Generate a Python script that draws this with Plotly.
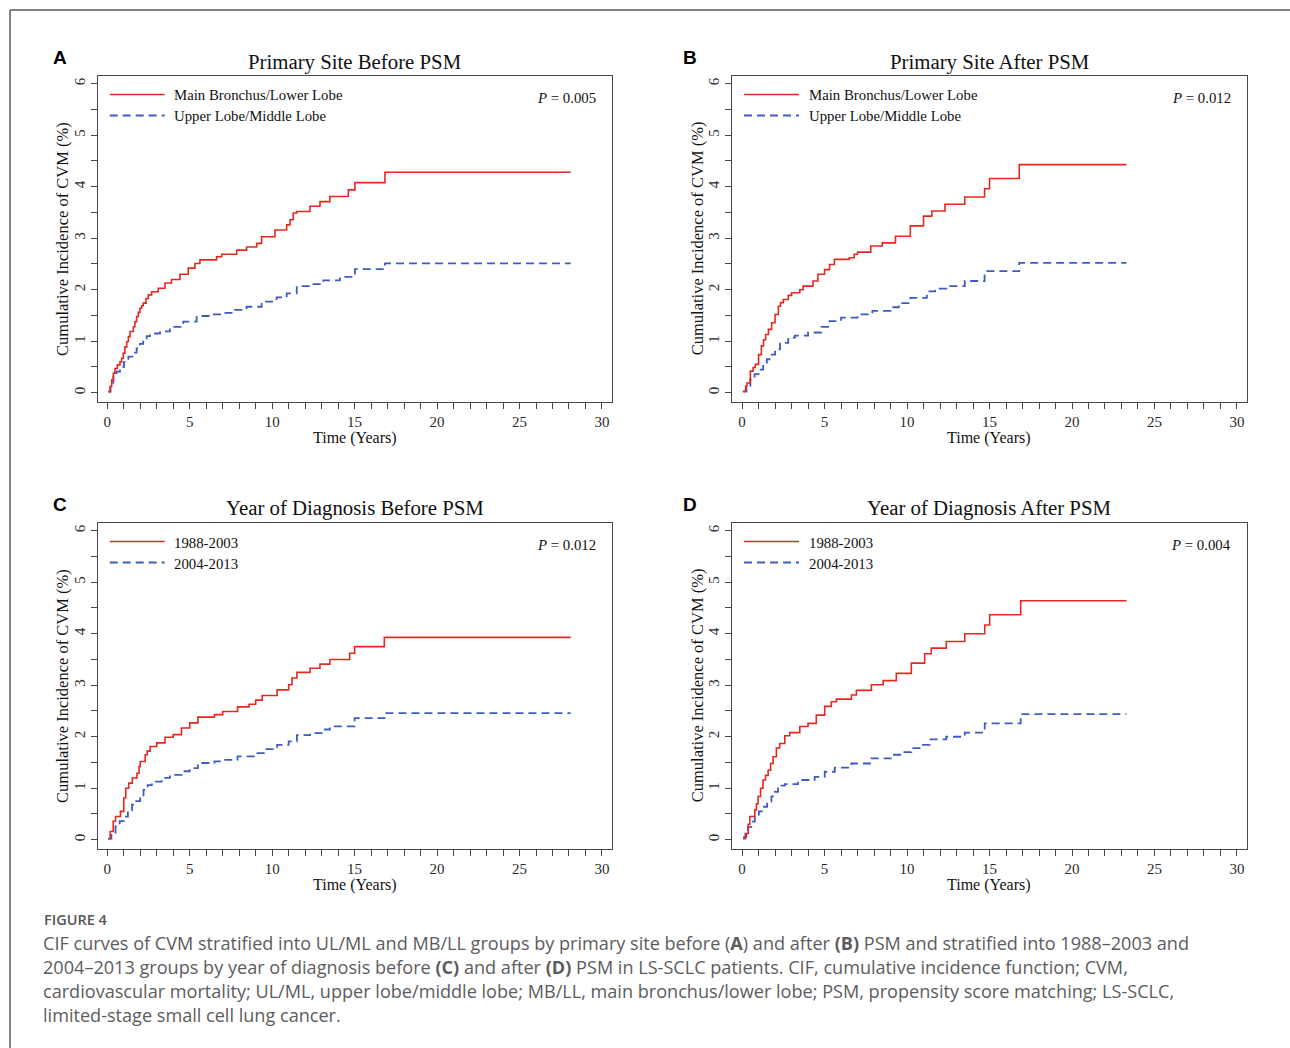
import plotly.graph_objects as go

W, H = 1290, 1048

# ---------------- data ----------------
panel_letters = ["A", "B", "C", "D"]
panel_titles = ["Primary Site Before PSM", "Primary Site After PSM",
                "Year of Diagnosis Before PSM", "Year of Diagnosis After PSM"]
p_values = ["0.005", "0.012", "0.012", "0.004"]
site_groups = ["Main Bronchus/Lower Lobe", "Upper Lobe/Middle Lobe"]
year_groups = ["1988-2003", "2004-2013"]
x_tick_vals = [0, 5, 10, 15, 20, 25, 30]
y_tick_vals = [0, 1, 2, 3, 4, 5, 6]
x_title = "Time (Years)"
y_title = "Cumulative Incidence of CVM (%)"

# Panel A: primary site, before PSM
a_mbll_t = [0.06, 0.17, 0.27, 0.37, 0.47, 0.61, 0.77, 0.87, 0.97, 1.07, 1.18, 1.28, 1.38, 1.58,
            1.68, 1.78, 1.88, 1.98, 2.08, 2.18, 2.35, 2.49, 2.69, 3.09, 3.5, 3.9, 4.41, 4.91,
            5.32, 5.62, 6.63, 6.94, 7.85, 8.45, 9.06, 9.36, 10.17, 10.88, 11.08, 11.28, 11.49,
            12.29, 12.9, 13.5, 14.62, 15.02, 16.84, 28.1]
a_mbll_y = [0.02, 0.12, 0.25, 0.38, 0.47, 0.54, 0.6, 0.67, 0.77, 0.89, 0.99, 1.09, 1.19, 1.28,
            1.38, 1.48, 1.56, 1.64, 1.69, 1.74, 1.83, 1.9, 1.96, 2.03, 2.13, 2.2, 2.3, 2.42,
            2.51, 2.58, 2.64, 2.69, 2.77, 2.83, 2.9, 3.03, 3.16, 3.26, 3.36, 3.49, 3.52,
            3.62, 3.71, 3.81, 3.94, 4.08, 4.28, 4.28]
a_ulml_t = [0.06, 0.2, 0.37, 0.57, 0.77, 1.01, 1.28, 1.52, 1.78, 1.98, 2.18, 2.39, 2.59, 3.2,
            3.8, 4.61, 5.42, 6.23, 7.03, 7.74, 8.45, 9.36, 10.27, 10.88, 11.49, 12.29, 13.1,
            14.11, 15.02, 16.84, 28.1]
a_ulml_y = [0.02, 0.12, 0.31, 0.41, 0.5, 0.6, 0.7, 0.78, 0.86, 0.95, 1.02, 1.1, 1.15, 1.19,
            1.28, 1.38, 1.49, 1.52, 1.55, 1.61, 1.67, 1.77, 1.85, 1.93, 2.07, 2.11, 2.18,
            2.25, 2.4, 2.51, 2.51]

# Panel B: primary site, after PSM
b_mbll_t = [0.05, 0.22, 0.3, 0.5, 0.67, 0.8, 1.0, 1.17, 1.3, 1.43, 1.6, 1.79, 2.0, 2.2, 2.33,
            2.5, 2.8, 3.0, 3.5, 3.7, 4.3, 4.6, 5.0, 5.3, 5.6, 6.5, 6.8, 7.0, 7.8, 8.5, 9.3,
            10.2, 11.0, 11.5, 12.3, 13.5, 14.7, 15.0, 16.8, 23.3]
b_mbll_y = [0.03, 0.13, 0.19, 0.42, 0.49, 0.55, 0.74, 0.91, 1.03, 1.13, 1.23, 1.36, 1.52, 1.68,
            1.75, 1.81, 1.89, 1.94, 2.0, 2.07, 2.17, 2.3, 2.39, 2.49, 2.59, 2.62, 2.69, 2.73,
            2.85, 2.91, 3.04, 3.24, 3.43, 3.53, 3.66, 3.8, 3.96, 4.16, 4.43, 4.43]
b_ulml_t = [0.05, 0.27, 0.5, 0.76, 1.0, 1.28, 1.5, 1.73, 2.0, 2.3, 2.8, 3.2, 4.0, 4.8, 5.3,
            6.0, 7.0, 7.9, 9.0, 9.5, 10.2, 11.2, 11.7, 12.4, 13.5, 14.7, 16.8, 23.3]
b_ulml_y = [0.02, 0.13, 0.26, 0.36, 0.45, 0.55, 0.65, 0.74, 0.84, 0.97, 1.07, 1.11, 1.17, 1.28,
            1.39, 1.46, 1.52, 1.59, 1.66, 1.74, 1.84, 1.97, 2.02, 2.07, 2.17, 2.36, 2.52, 2.52]

# Panel C: year of diagnosis, before PSM
c_early_t = [0.05, 0.18, 0.36, 0.5, 0.8, 1.0, 1.12, 1.3, 1.52, 1.8, 1.93, 2.0, 2.3, 2.42, 2.6,
             3.0, 3.5, 4.0, 4.5, 5.0, 5.5, 6.5, 7.0, 7.9, 8.6, 9.0, 9.4, 10.3, 11.0, 11.2,
             11.5, 12.3, 12.9, 13.5, 14.7, 15.0, 16.8, 28.1]
c_early_y = [0.02, 0.16, 0.36, 0.45, 0.55, 0.81, 1.0, 1.1, 1.2, 1.29, 1.42, 1.52, 1.65, 1.72,
             1.81, 1.88, 1.99, 2.04, 2.17, 2.27, 2.38, 2.43, 2.49, 2.58, 2.63, 2.71, 2.8,
             2.91, 3.01, 3.14, 3.25, 3.33, 3.41, 3.5, 3.62, 3.75, 3.93, 3.93]
c_late_t = [0.05, 0.25, 0.5, 0.75, 1.0, 1.25, 1.5, 1.75, 2.0, 2.2, 2.45, 2.7, 3.3, 3.8, 4.5,
            5.0, 5.5, 6.5, 7.0, 7.9, 9.0, 9.5, 10.3, 11.0, 11.5, 12.3, 13.0, 13.5, 15.0,
            16.8, 28.1]
c_late_y = [0.02, 0.13, 0.26, 0.36, 0.45, 0.57, 0.68, 0.75, 0.81, 0.97, 1.06, 1.13, 1.2, 1.26,
            1.33, 1.39, 1.49, 1.52, 1.55, 1.62, 1.68, 1.76, 1.84, 1.91, 2.03, 2.07, 2.14,
            2.2, 2.36, 2.46, 2.46]

# Panel D: year of diagnosis, after PSM
d_early_t = [0.06, 0.26, 0.37, 0.47, 0.77, 0.87, 0.97, 1.12, 1.27, 1.42, 1.58, 1.73, 1.88,
             2.08, 2.28, 2.59, 2.89, 3.5, 4.0, 4.5, 5.01, 5.41, 5.72, 6.63, 6.93, 7.84, 8.55,
             9.35, 10.26, 11.07, 11.47, 12.38, 13.5, 14.71, 15.01, 16.89, 23.3]
d_early_y = [0.05, 0.12, 0.3, 0.45, 0.58, 0.7, 0.84, 1.0, 1.16, 1.25, 1.35, 1.48, 1.61,
             1.78, 1.87, 2.02, 2.08, 2.2, 2.26, 2.42, 2.59, 2.68, 2.73, 2.81, 2.9, 3.01, 3.09,
             3.23, 3.43, 3.61, 3.72, 3.85, 4.0, 4.17, 4.37, 4.64, 4.64]
d_late_t = [0.06, 0.2, 0.36, 0.56, 0.77, 1.02, 1.27, 1.52, 1.78, 1.98, 2.18, 2.38, 2.59, 3.39,
            4.4, 5.01, 5.62, 6.63, 7.84, 9.15, 9.66, 10.26, 10.97, 11.37, 12.38, 13.5, 14.71,
            16.89, 23.3]
d_late_y = [0.02, 0.12, 0.25, 0.35, 0.45, 0.55, 0.64, 0.74, 0.84, 0.93, 1.0, 1.05, 1.08, 1.16,
            1.22, 1.32, 1.4, 1.48, 1.58, 1.65, 1.7, 1.78, 1.84, 1.95, 2.0, 2.08, 2.26,
            2.44, 2.44]

caption_label = "FIGURE 4"
caption_lines = [
    "CIF curves of CVM stratified into UL/ML and MB/LL groups by primary site before (<b>A</b>) and after <b>(B)</b> PSM and stratified into 1988–2003 and",
    "2004–2013 groups by year of diagnosis before <b>(C)</b> and after <b>(D)</b> PSM in LS-SCLC patients. CIF, cumulative incidence function; CVM,",
    "cardiovascular mortality; UL/ML, upper lobe/middle lobe; MB/LL, main bronchus/lower lobe; PSM, propensity score matching; LS-SCLC,",
    "limited-stage small cell lung cancer.",
]

# ---------------- styling ----------------
RED = "#e5281f"
BLUE = "#3e5cbf"
AXIS = "#474747"
SERIF = "Liberation Serif"
SANS_BOLD = "Liberation Sans"
CAPTION_FONT = "Open Sans"


def fx(px):
    return px / W


def fy(py):
    return 1 - py / H


# pixel boxes of the four plot areas: left, top, right, bottom
boxes = [(97.7, 75.5, 611.7, 402.0),
         (732.0, 75.5, 1246.7, 402.0),
         (97.7, 522.5, 611.7, 849.0),
         (732.0, 522.5, 1246.7, 849.0)]
x_ranges = [[-0.58, 30.59], [-0.61, 30.59], [-0.58, 30.59], [-0.61, 30.59]]
y_range = [-0.18, 6.16]
letter_pos = [(60, 57), (690, 57), (60, 504), (690, 504)]

series = [
    (a_mbll_t, a_mbll_y, a_ulml_t, a_ulml_y, site_groups),
    (b_mbll_t, b_mbll_y, b_ulml_t, b_ulml_y, site_groups),
    (c_early_t, c_early_y, c_late_t, c_late_y, year_groups),
    (d_early_t, d_early_y, d_late_t, d_late_y, year_groups),
]

fig = go.Figure()
annotations = []
shapes = []
layout_axes = {}

for i, (box, (t1, y1, t2, y2, groups)) in enumerate(zip(boxes, series)):
    n = "" if i == 0 else str(i + 1)
    xa, ya = "x" + n, "y" + n
    left, top, right, bottom = box
    cx = (left + right) / 2
    cy = (top + bottom) / 2

    fig.add_trace(go.Scatter(x=t2, y=y2, mode="lines", line_shape="hv",
                             line=dict(color=BLUE, width=1.8, dash="8px,5px"),
                             xaxis=xa, yaxis=ya, showlegend=False, name=groups[1]))
    fig.add_trace(go.Scatter(x=t1, y=y1, mode="lines", line_shape="hv",
                             line=dict(color=RED, width=1.6),
                             xaxis=xa, yaxis=ya, showlegend=False, name=groups[0]))

    common = dict(showline=True, linecolor=AXIS, linewidth=1.3, mirror=True,
                  showgrid=False, zeroline=False, ticks="outside", ticklen=6,
                  tickwidth=1, tickcolor=AXIS,
                  tickfont=dict(family=SERIF, size=15, color="#2a2a2a"))
    layout_axes["xaxis" + n] = dict(
        common, domain=[fx(left), fx(right)], range=x_ranges[i], anchor=ya,
        tickmode="array", tickvals=x_tick_vals, ticklabelstandoff=0,
        minor=dict(dtick=1, tick0=0, ticks="outside", ticklen=6, tickcolor=AXIS))
    layout_axes["yaxis" + n] = dict(
        common, domain=[fy(bottom), fy(top)], range=y_range, anchor=xa,
        tickmode="array", tickvals=y_tick_vals, tickangle=-90,
        minor=dict(dtick=0.5, tick0=0, ticks="outside", ticklen=6, tickcolor=AXIS))

    # panel letter
    annotations.append(dict(x=fx(letter_pos[i][0]), y=fy(letter_pos[i][1]), xref="paper",
                            yref="paper", text="<b>%s</b>" % panel_letters[i], showarrow=False,
                            xanchor="center", yanchor="middle",
                            font=dict(family=SANS_BOLD, size=19, color="#000")))
    # panel title
    annotations.append(dict(x=fx(cx), y=fy(top - 14), xref="paper", yref="paper",
                            text=panel_titles[i], showarrow=False, xanchor="center",
                            yanchor="middle", font=dict(family=SERIF, size=20.8, color="#111")))
    # axis titles
    annotations.append(dict(x=fx(cx), y=fy(bottom + 35.5), xref="paper", yref="paper",
                            text=x_title, showarrow=False, xanchor="center", yanchor="middle",
                            font=dict(family=SERIF, size=16, color="#111")))
    annotations.append(dict(x=fx(left - 34.5), y=fy(cy), xref="paper", yref="paper",
                            text=y_title, showarrow=False, textangle=-90, xanchor="center",
                            yanchor="middle", font=dict(family=SERIF, size=16.5, color="#111")))
    # legend
    for k, (col, dash, off) in enumerate([(RED, "solid", 19), (BLUE, "8px,5px", 40)]):
        shapes.append(dict(type="line", xref="paper", yref="paper",
                           x0=fx(left + 12), x1=fx(left + 67),
                           y0=fy(top + off), y1=fy(top + off),
                           line=dict(color=col, width=1.6 if k == 0 else 1.8, dash=dash)))
        annotations.append(dict(x=fx(left + 74.5), y=fy(top + off + 1), xref="paper",
                                yref="paper", text=groups[k], showarrow=False,
                                xanchor="left", yanchor="middle",
                                font=dict(family=SERIF, size=14.8, color="#111")))
    # P value
    annotations.append(dict(x=fx(right - 13.5), y=fy(top + 22), xref="paper", yref="paper",
                            text="<i>P</i> = %s" % p_values[i], showarrow=False,
                            xanchor="right", yanchor="middle",
                            font=dict(family=SERIF, size=14.8, color="#111")))

# caption
annotations.append(dict(x=fx(42), y=fy(919), xref="paper", yref="paper", text=caption_label,
                        showarrow=False, xanchor="left", yanchor="middle",
                        font=dict(family=CAPTION_FONT, size=14.5, color="#555", weight=600)))
for j, line in enumerate(caption_lines):
    annotations.append(dict(x=fx(41), y=fy(943 + 24 * j), xref="paper", yref="paper",
                            text=line, showarrow=False, xanchor="left", yanchor="middle",
                            font=dict(family=CAPTION_FONT, size=18.1, color="#5c5c5c")))

# outer frame (top and left edges)
frame = dict(color="#5a5a5a", width=1.5)
shapes.append(dict(type="line", xref="paper", yref="paper", x0=fx(10), x1=1.0,
                   y0=fy(10), y1=fy(10), line=frame))
shapes.append(dict(type="line", xref="paper", yref="paper", x0=fx(10), x1=fx(10),
                   y0=fy(10), y1=0.0, line=frame))

fig.update_layout(width=W, height=H, autosize=False,
                  margin=dict(l=0, r=0, t=0, b=0, pad=0),
                  paper_bgcolor="white", plot_bgcolor="white",
                  showlegend=False, annotations=annotations, shapes=shapes,
                  **layout_axes)

fig.write_html("out.html")
